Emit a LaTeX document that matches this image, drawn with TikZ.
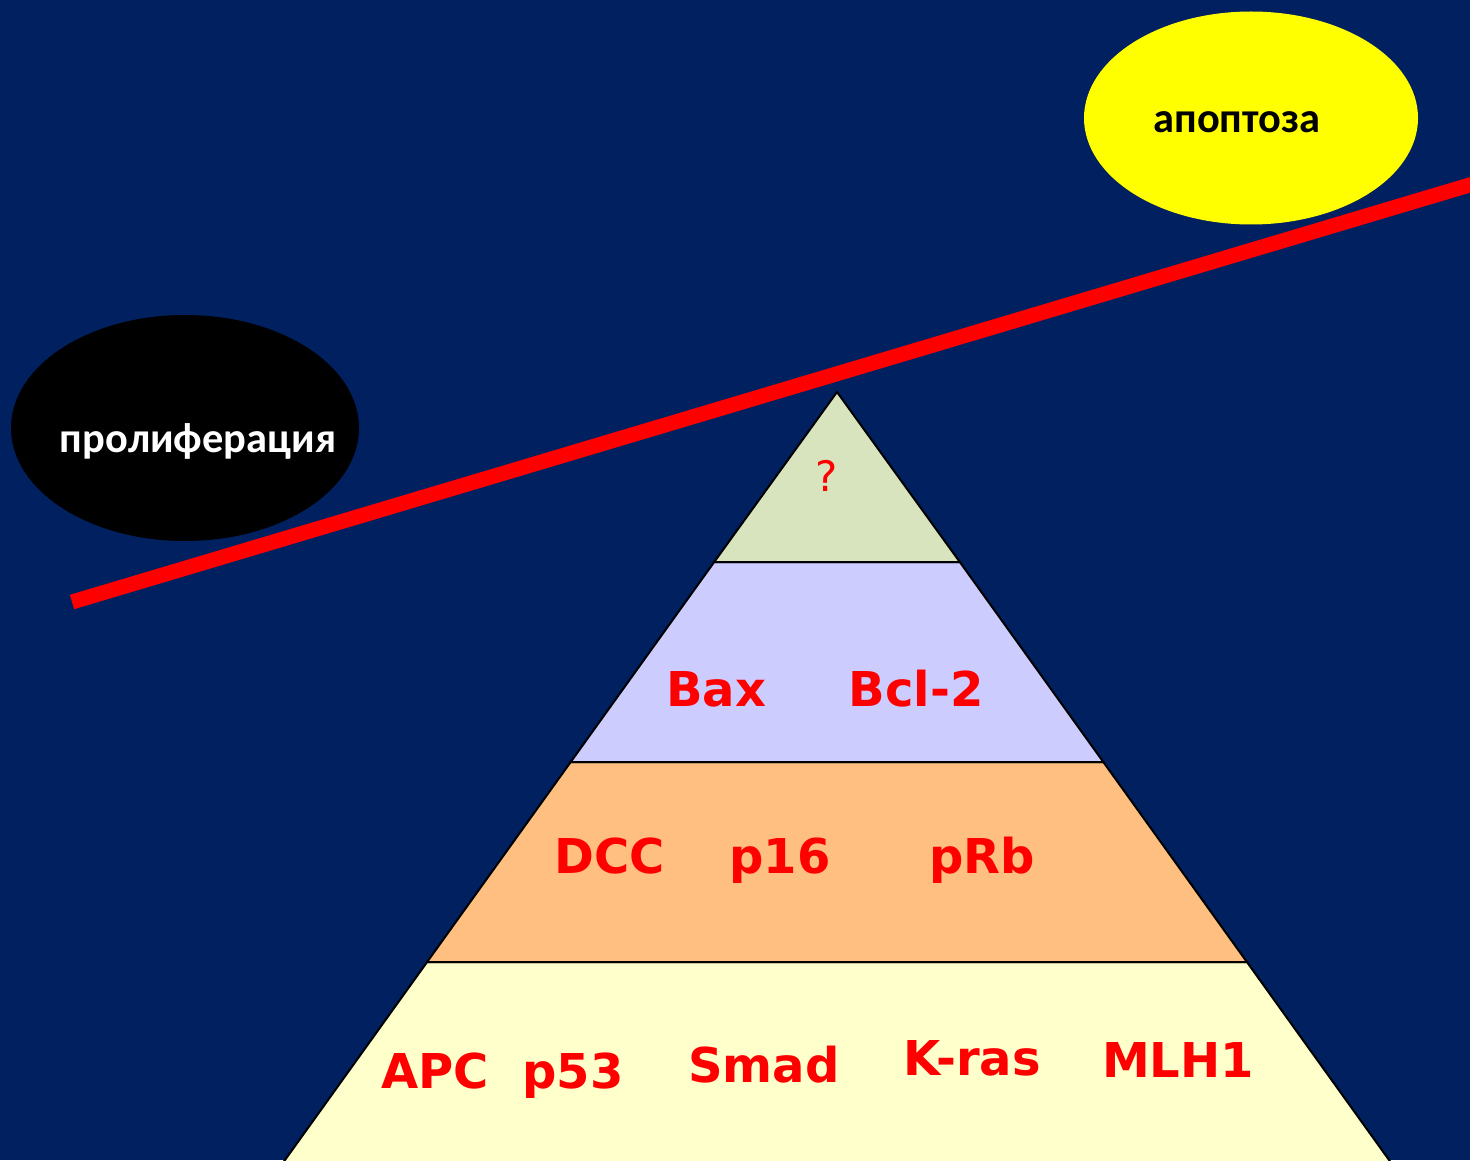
\documentclass[tikz,border=0pt]{standalone}
\usepackage{fontspec}
\setmainfont{DejaVu Sans}
\newfontfamily\carlfont{Carlito}
\usetikzlibrary{shapes.geometric}
\definecolor{bg}{RGB}{0,32,96}
\definecolor{layA}{RGB}{215,228,189}
\definecolor{layB}{RGB}{204,204,255}
\definecolor{layC}{RGB}{255,191,128}
\definecolor{layD}{RGB}{255,255,204}
\definecolor{lred}{RGB}{255,0,0}
\definecolor{oyellow}{RGB}{255,255,0}
\tikzset{
  layer/.style={draw=black, line width=1pt, line join=miter},
  gene/.style={text=lred, font=\bfseries\fontsize{24}{28}\selectfont, anchor=base, inner sep=0pt},
  oval/.style={ellipse, inner sep=0pt, draw=none},
  ovaltext/.style={font=\carlfont\bfseries\fontsize{21.2}{25}\selectfont, anchor=base, inner sep=0pt},
  balance/.style={draw=lred, line width=7.5pt, line cap=butt}
}
\begin{document}
\begin{tikzpicture}[x=0.5pt,y=-0.5pt]
\fill[bg] (0,0) rectangle (1470,1160);
\useasboundingbox (0,0) rectangle (1470,1160);
\begin{scope}
\clip (0,0) rectangle (1470,1160);
% pyramid layers
\path[layer, fill=layD] (427.1,962) -- (1246.9,962) -- (1396.2,1170) -- (277.8,1170) -- cycle;
\path[layer, fill=layC] (570.7,762) -- (1103.3,762) -- (1246.9,962) -- (427.1,962) -- cycle;
\path[layer, fill=layB] (714.2,562) -- (959.8,562) -- (1103.3,762) -- (570.7,762) -- cycle;
\path[layer, fill=layA] (837,392) -- (959.8,562) -- (714.2,562) -- cycle;
% ovals
\node[oval, fill=black, minimum width=174pt, minimum height=113pt] (prolif) at (185,428) {};
\node[oval, fill=oyellow, minimum width=167pt, minimum height=106.5pt] (apopt) at (1251,118) {};
\node[ovaltext, text=white] (prolifText) at (198,452) {пролиферация};
\node[ovaltext, text=black] (apoptText) at (1237,133) {апоптоза};
% balance beam
\coordinate (beamL) at (72,602);
\coordinate (beamR) at (1540,164);
\draw[balance] (beamL) -- (beamR);
\end{scope}
% labels
\node[text=lred, font=\fontsize{21}{25}\selectfont, anchor=base, inner sep=0pt] (q) at (827,491) {?};
\node[gene] (bax) at (716,706) {Bax};
\node[gene] (bcl) at (916,706) {Bcl-2};
\node[gene] (dcc) at (610,873) {DCC};
\node[gene] (p16) at (780,873) {p16};
\node[gene] (prb) at (982,873) {pRb};
\node[gene] (apc) at (435,1088) {APC};
\node[gene] (p53) at (573,1088) {p53};
\node[gene] (smad) at (764,1082) {Smad};
\node[gene] (kras) at (972,1075) {K-ras};
\node[gene] (mlh) at (1178,1077) {MLH1};
\end{tikzpicture}
\end{document}
